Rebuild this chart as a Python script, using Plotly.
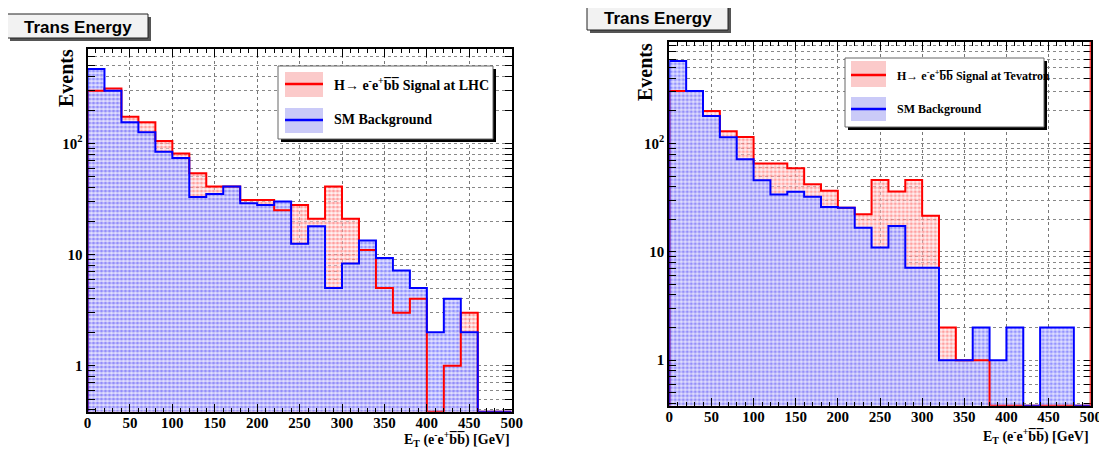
import plotly.graph_objects as go

# the page body adds an 8px margin; the figure is sized so that it fills the window
PAGE_PAD = 8
W, H = 1107 - PAGE_PAD, 452 - PAGE_PAD

# ---------------- data ----------------
bin_edges = list(range(0, 520, 20))  # 0..500, 25 bins of 20 GeV

lhc_signal = [298, 313, 174, 155, 105, 81, 54, 41, 41, 31, 31, 25, 28, 21, 41, 21,
              11, 5, 3, 4, 0, 1, 3, 0, 0]
lhc_background = [467, 298, 155, 126, 84, 74, 33, 35, 41, 29, 28, 30, 12.5, 18, 5, 8.3,
                  13.4, 9.3, 7.2, 5, 2, 4, 2, 0, 0]

tev_signal = [305, 305, 200, 130, 115, 65.5, 65.5, 59, 42, 36.6, 25.5, 22.3, 46, 36, 46, 21.5,
              2, 1, 1, 0, 0, 0, 0, 0, 0]
tev_background = [578, 305, 180, 114, 71.6, 45.9, 33.9, 35.8, 32.2, 26, 25.5, 16.7, 11, 17.3, 7.15, 7.15,
                  1, 1, 2, 1, 2, 0, 2, 2, 0]

x_ticks = list(range(0, 550, 50))
y_minor = [m * 10 ** e for e in (-1, 0, 1, 2) for m in range(1, 10)]
y_labels = {1: "1", 10: "10", 100: "10<sup>2</sup>"}

left_yrange = [-0.414, 2.85]
right_yrange = [-0.42, 2.94]

RED = "#ff0000"
BLUE = "#0000ff"
SERIF = "Liberation Serif, Times New Roman, serif"
SANS = "Liberation Sans, Arial, sans-serif"


def step_polygon(edges, values, floor):
    xs, ys = [edges[0]], [floor]
    for i, v in enumerate(values):
        vv = v if v > 0 else floor
        xs += [edges[i], edges[i + 1]]
        ys += [vv, vv]
    xs.append(edges[-1])
    ys.append(floor)
    return xs, ys


fig = go.Figure()


def add_hist(values, color, fg, bg, xa, ya, floor):
    xs, ys = step_polygon(bin_edges, values, floor)
    fig.add_trace(go.Scatter(
        x=xs, y=ys, xaxis=xa, yaxis=ya, mode="lines", fill="toself",
        line=dict(width=0, color=color),
        fillcolor=bg,
        fillpattern=dict(shape=".", fgcolor=fg, bgcolor=bg, size=4, solidity=0.5),
        hoverinfo="skip", showlegend=False))


def add_line(values, color, xa, ya, floor):
    xs, ys = step_polygon(bin_edges, values, floor)
    fig.add_trace(go.Scatter(
        x=xs, y=ys, xaxis=xa, yaxis=ya, mode="lines",
        line=dict(width=2, color=color), hoverinfo="skip", showlegend=False))


for sig, bkg, xa, ya, yr in ((lhc_signal, lhc_background, "x", "y", left_yrange),
                             (tev_signal, tev_background, "x2", "y2", right_yrange)):
    floor = 10 ** yr[0]
    add_hist(sig, RED, "rgba(255,60,60,0.9)", "rgba(255,228,228,0.5)", xa, ya, floor)
    add_hist(bkg, BLUE, "rgba(60,60,255,0.95)", "rgba(222,222,255,0.9)", xa, ya, floor)
    add_line(sig, RED, xa, ya, floor)
    add_line(bkg, BLUE, xa, ya, floor)


def px_x(v):
    return (v - PAGE_PAD) / W


def px_y(v):
    return 1 - (v - PAGE_PAD) / H


left_dom_x = [px_x(87.5), px_x(511.7)]
left_dom_y = [px_y(411.7), px_y(49)]
right_dom_x = [px_x(669.3), px_x(1090.7)]
right_dom_y = [px_y(405.7), px_y(41.7)]

tickfont = dict(family=SERIF, size=15, color="black", weight="bold")


def xaxis_cfg(dom, anchor):
    return dict(domain=dom, anchor=anchor, range=[0, 500], tickvals=x_ticks,
                ticks="inside", ticklen=8, tickwidth=1, tickcolor="black",
                showline=True, linewidth=2, linecolor="black", mirror="ticks",
                showgrid=True, gridcolor="#777777", griddash="dot", gridwidth=1,
                zeroline=False, tickfont=tickfont, automargin=False, ticklabelstandoff=-4,
                minor=dict(dtick=10, ticks="inside", ticklen=4, tickcolor="black", showgrid=False))


def yaxis_cfg(dom, anchor, yr):
    return dict(domain=dom, anchor=anchor, type="log", range=yr, tickvals=y_minor,
                ticktext=[y_labels.get(v, "") for v in y_minor],
                ticks="inside", ticklen=7, tickwidth=1, tickcolor="black",
                showline=True, linewidth=2, linecolor="black", mirror="ticks",
                showgrid=True, gridcolor="#888888", griddash="dot", gridwidth=1,
                zeroline=False, tickfont=tickfont, automargin=False)


def ymajor_cfg(over, anchor, yr):
    return dict(overlaying=over, anchor=anchor, type="log", range=yr, tickvals=[1, 10, 100],
                ticks="inside", ticklen=13, tickwidth=1, tickcolor="black",
                showticklabels=False, showgrid=False, showline=False, mirror="ticks",
                zeroline=False, automargin=False)


fig.update_layout(
    width=W, height=H, margin=dict(l=0, r=0, t=0, b=0, autoexpand=False),
    paper_bgcolor="white", plot_bgcolor="white",
    xaxis=xaxis_cfg(left_dom_x, "y"),
    yaxis=yaxis_cfg(left_dom_y, "x", left_yrange),
    xaxis2=xaxis_cfg(right_dom_x, "y2"),
    yaxis2=yaxis_cfg(right_dom_y, "x2", right_yrange),
    yaxis3=ymajor_cfg("y", "x", left_yrange),
    yaxis4=ymajor_cfg("y2", "x2", right_yrange),
    showlegend=False,
)

shapes = []
annotations = []


def rect(x0, y0, x1, y1, fill, line_color=None, lw=1):
    shapes.append(dict(type="rect", xref="paper", yref="paper",
                       x0=px_x(x0), x1=px_x(x1), y0=px_y(y1), y1=px_y(y0),
                       fillcolor=fill, line=dict(color=line_color or fill, width=lw if line_color else 0),
                       layer="above"))


def hline(x0, x1, y, color, w):
    shapes.append(dict(type="line", xref="paper", yref="paper",
                       x0=px_x(x0), x1=px_x(x1), y0=px_y(y), y1=px_y(y),
                       line=dict(color=color, width=w), layer="above"))


def text(x, y, s, size, family=SERIF, xanchor="left", angle=0, weight="bold"):
    annotations.append(dict(xref="paper", yref="paper", x=px_x(x), y=px_y(y), text=s,
                            showarrow=False, xanchor=xanchor, yanchor="middle",
                            textangle=angle,
                            font=dict(family=family, size=size, color="black", weight=weight)))


# title boxes
for (x0, y0, x1, y1) in ((7, 14, 148, 38), (587, 5, 728, 30)):
    rect(x0 + 3, y0 + 3, x1 + 3, y1 + 3, "#555555")
    rect(x0, y0, x1, y1, "#f2f2f2", "#222222", 1)
    text((x0 + x1) / 2, (y0 + y1) / 2 + 1, "Trans Energy", 17, SANS, "center")

# legends
legends = [
    dict(box=(278, 66, 493, 139), patch_x=(285, 323), rows=[(72, 97, 84), (108, 133, 120)],
         tx=332, size=14, labels=["H\u2192 e<sup>-</sup>e<sup>+</sup>b\u0305b\u0305 Signal at LHC", "SM Background"]),
    dict(box=(845, 58, 1044, 127), patch_x=(851, 886), rows=[(61, 87, 75), (97, 121, 109)],
         tx=895, size=12, labels=["H\u2192 e<sup>-</sup>e<sup>+</sup>b\u0305b\u0305 Signal at Tevatron", "SM Background"]),
]
for lg in legends:
    x0, y0, x1, y1 = lg["box"]
    rect(x0 + 3, y0 + 3, x1 + 3, y1 + 3, "#000000")
    rect(x0, y0, x1, y1, "#ffffff", "#666666", 1)
    for (r0, r1, ly), col, pc, lab in zip(lg["rows"], (RED, BLUE), ("#fbcaca", "#cacaf8"), lg["labels"]):
        rect(lg["patch_x"][0], r0, lg["patch_x"][1], r1, pc)
        hline(lg["patch_x"][0], lg["patch_x"][1], ly, col, 2.5)
        text(lg["tx"], ly, lab, lg["size"])

# axis titles
text(66, 78, "Events", 20, angle=-90, xanchor="center")
text(645, 72, "Events", 20, angle=-90, xanchor="center")
xt = "E<sub>T</sub> (e<sup>-</sup>e<sup>+</sup>b\u0305b\u0305) [GeV]"
text(512, 439, xt, 14, xanchor="right")
text(1091, 436, xt, 14, xanchor="right")

# red right edge of right frame
shapes.append(dict(type="line", xref="x2", yref="y2 domain", x0=500, x1=500, y0=0, y1=1,
                   line=dict(color=RED, width=2), layer="above"))

fig.update_layout(shapes=shapes, annotations=annotations)
fig.write_html("out.html")
